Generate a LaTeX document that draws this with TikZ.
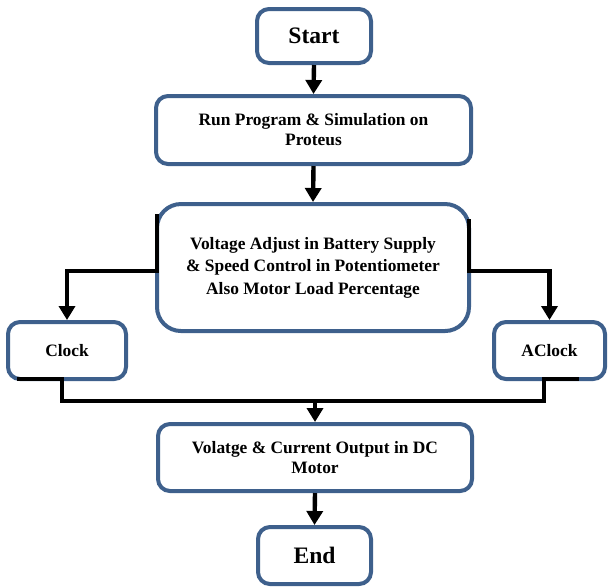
\documentclass[tikz,border=0pt]{standalone}
\usepackage{fontspec}
\setmainfont{Liberation Serif}
\usetikzlibrary{arrows.meta,positioning,calc}
\definecolor{boxblue}{RGB}{62,96,140}
\tikzset{
	box/.style={draw=boxblue, line width=2pt, rounded corners=6pt, fill=white,
		align=center, inner sep=2pt, font=\bfseries\fontsize{8.7}{10}\selectfont},
	bigbox/.style={box, font=\bfseries\fontsize{11.8}{14}\selectfont},
	link/.style={line width=2.2pt, black},
	arrow/.style={link, -{Triangle[width=8pt,length=7pt]}}
}
\begin{document}
	\begin{tikzpicture}[x=0.5pt,y=-0.5pt]
		\useasboundingbox (0,0) rectangle (608,586);
		
		%blocchi
		\node[bigbox, minimum width=57pt, minimum height=27pt] (start) at (314,36) {Start};
		\node[box, minimum width=157.5pt, minimum height=34pt] (run) at (313.5,130)
			{Run Program \& Simulation on\\ Proteus};
		\node[box, minimum width=156pt, minimum height=63.5pt, rounded corners=12pt,
			font=\bfseries\fontsize{8.7}{11.2}\selectfont] (volt) at (313,267.5)
			{Voltage Adjust in Battery Supply\\ \& Speed Control in Potentiometer\\ Also Motor Load Percentage};
		\node[box, minimum width=59pt, minimum height=28.5pt] (clock) at (67,350.5) {Clock};
		\node[box, minimum width=55.5pt, minimum height=28.5pt] (aclock) at (549.5,350.5) {AClock};
		\node[box, minimum width=157pt, minimum height=33.5pt] (out) at (315,457.5)
			{Volatge \& Current Output in DC\\ Motor};
		\node[bigbox, minimum width=56.5pt, minimum height=28.5pt] (end) at (314.5,555.5) {End};
		
		%frecce principali
		\draw[arrow] (start.south) -- (run.north);
		\draw[arrow] (run.south) -- (volt.north);
		
		%rami laterali
		\draw[arrow] ([xshift=1pt,yshift=-6pt]volt.north west) -- ([xshift=1pt,yshift=-1.75pt]volt.west)
			-| (clock.north);
		\draw[arrow] ([xshift=-1pt,yshift=-8.5pt]volt.north east) -- ([xshift=-1pt,yshift=-1.75pt]volt.east)
			-| (aclock.north);
		
		%ricongiungimento
		\coordinate[above=10.5pt of out.north] (merge);
		\draw[link] ([xshift=5.5pt,yshift=1pt]clock.south west) -- ([xshift=-2.5pt,yshift=1pt]clock.south)
			|- (merge) -| ([xshift=-2.75pt,yshift=1pt]aclock.south) -- ([xshift=-14pt,yshift=1pt]aclock.south east);
		\draw[arrow] (merge) -- (out.north);
		\draw[arrow] (out.south) -- (end.north);
	\end{tikzpicture}
\end{document}
